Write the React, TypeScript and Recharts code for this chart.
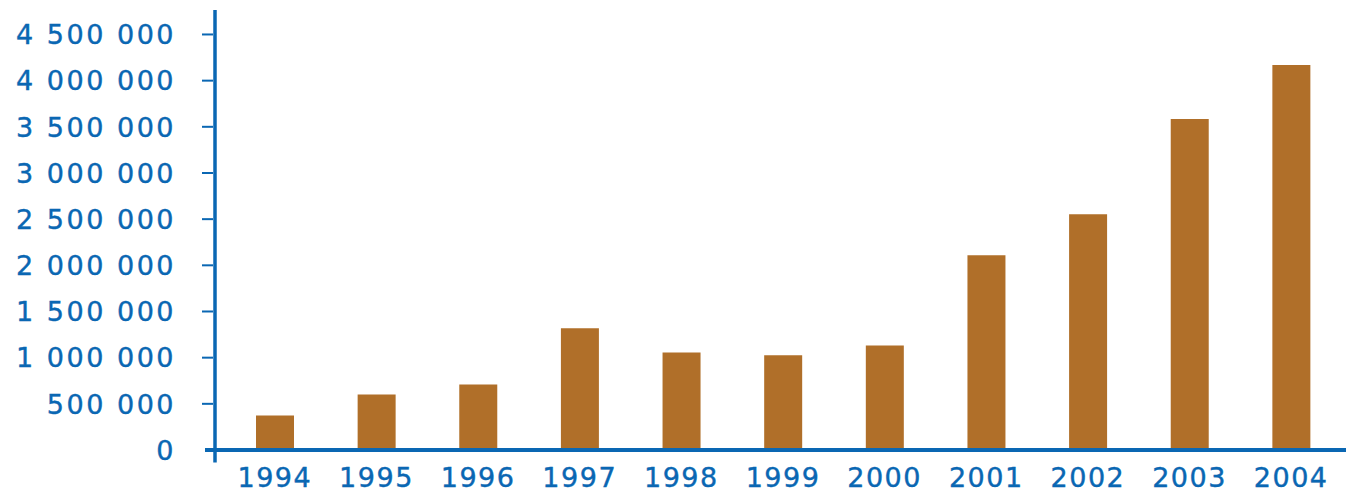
import { Bar, BarChart, XAxis, YAxis } from 'recharts';

const years = ['1994', '1995', '1996', '1997', '1998', '1999', '2000', '2001', '2002', '2003', '2004'];
const values = [374000, 602000, 710000, 1318000, 1057000, 1025000, 1133000, 2110000, 2554000, 3585000, 4170000];
const yTicks = [0, 500000, 1000000, 1500000, 2000000, 2500000, 3000000, 3500000, 4000000, 4500000];

const BLUE = '#0a67b3';
const BROWN = '#b06f29';
const FONT = '"DejaVu Sans", sans-serif';
const Y_TICK_SIZE = 13;
const Y_TICK_MARGIN = 26;

const data = years.map((year, i) => ({ year, value: values[i] }));

const fmt = (v: number) => String(v).replace(/\B(?=(\d{3})+(?!\d))/g, ' ');

function YTick(props: any) {
  const { x, y, payload } = props;
  const axisX = x + Y_TICK_MARGIN + Y_TICK_SIZE;
  const isZero = payload.value === 0;
  return (
    <g>
      {isZero ? (
        <>
          <line x1={axisX - 10} x2={axisX} y1={y} y2={y} stroke={BLUE} strokeWidth={4} />
          <line x1={axisX} x2={axisX} y1={y} y2={y + 12.5} stroke={BLUE} strokeWidth={3.5} />
        </>
      ) : (
        <line x1={axisX - Y_TICK_SIZE} x2={axisX - 2} y1={y} y2={y} stroke={BLUE} strokeWidth={2} />
      )}
      <text x={x} y={y} dy="0.36em" textAnchor="end" fill={BLUE} stroke={BLUE} strokeWidth={0.4}
        fontFamily={FONT} fontSize={27} letterSpacing={2.5}>
        {fmt(payload.value)}
      </text>
    </g>
  );
}

export default function App() {
  return (
    <div style={{ position: 'absolute', left: 0, top: 0, background: '#fff' }}>
      <BarChart width={1346} height={494} data={data} margin={{ top: 10, right: 0, left: 0, bottom: 0 }}>
        <XAxis
          dataKey="year"
          height={44}
          padding={{ left: 9, right: 4 }}
          axisLine={{ stroke: BLUE, strokeWidth: 4 }}
          tickLine={false}
          tickSize={0}
          tickMargin={18}
          tick={{ fill: BLUE, stroke: BLUE, strokeWidth: 0.4, fontSize: 27, fontFamily: FONT, letterSpacing: 1.5 }}
          interval={0}
        />
        <YAxis
          type="number"
          width={215}
          domain={[0, 4765000]}
          allowDataOverflow
          ticks={yTicks}
          interval={0}
          axisLine={{ stroke: BLUE, strokeWidth: 3.5 }}
          tickLine={false}
          tickSize={Y_TICK_SIZE}
          tickMargin={Y_TICK_MARGIN}
          tick={<YTick />}
        />
        <Bar dataKey="value" fill={BROWN} barSize={38} isAnimationActive={false} />
      </BarChart>
    </div>
  );
}
